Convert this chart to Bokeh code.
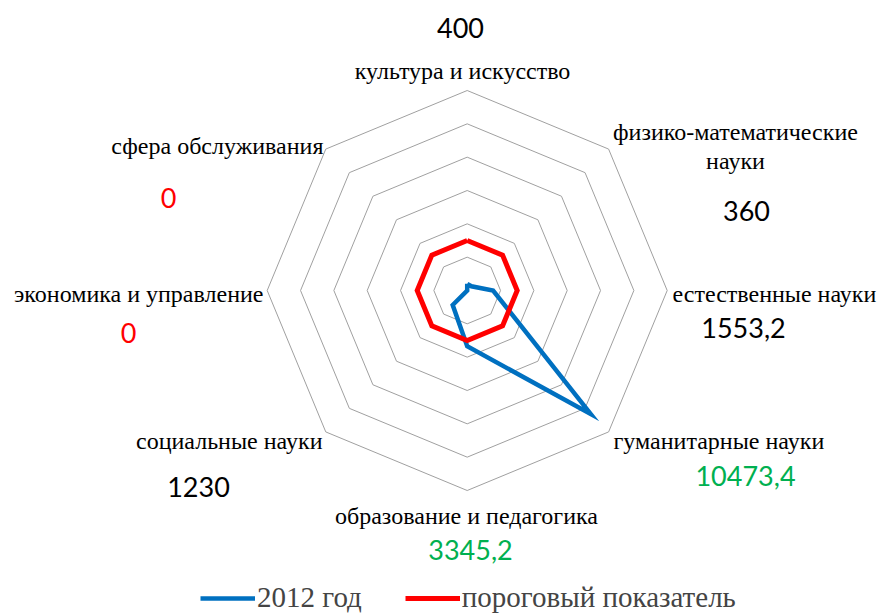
import numpy as np
from bokeh.plotting import figure
from bokeh.models import Legend, LegendItem, Range1d
from bokeh.core.properties import value
from bokeh.embed import file_html
from bokeh.resources import INLINE

# ---------------- data ----------------
categories = [
    "культура и искусство",
    "физико-математические\nнауки",
    "естественные науки",
    "гуманитарные науки",
    "образование и педагогика",
    "социальные науки",
    "экономика и управление",
    "сфера обслуживания",
]
values_2012 = [400, 360, 1553.2, 10473.4, 3345.2, 1230, 0, 0]
threshold = [3000, 3000, 3000, 3000, 3000, 3000, 3000, 3000]
value_labels = ["400", "360", "1553,2", "10473,4", "3345,2", "1230", "0", "0"]
value_label_colors = ["#000000", "#000000", "#000000", "#00B050", "#00B050", "#000000", "#FF0000", "#FF0000"]
ring_ticks = [2000, 4000, 6000, 8000, 10000, 12000]
series_names = ["2012 год", "пороговый показатель"]

# ---------------- layout (pixel positions in picture) ----------------
W, H = 878, 616
CX, CY = 466.7, 290.0        # radar centre in picture pixels
R_PX = 200.0                  # outer ring radius in pixels
U = ring_ticks[-1] / R_PX     # data units per pixel

cat_label_layout = [  # (x, y, align)
    (462, 70, "center"),
    (735, 146, "center"),
    (672, 293, "left"),
    (613, 440, "left"),
    (466, 515, "center"),
    (322, 440, "right"),
    (263, 293, "right"),
    (323, 145, "right"),
]
val_label_layout = [
    (460, 27), (746, 210), (743, 327), (745, 475),
    (470, 549), (198, 486), (128, 332), (168, 197),
]


def px2data(ix, iy):
    return (ix - CX) * U, (CY - iy) * U


n = len(categories)
theta = np.arange(n) * 2 * np.pi / n


def polar(vals):
    v = np.asarray(vals, dtype=float)
    xs = v * np.sin(theta)
    ys = v * np.cos(theta)
    return list(xs) + [xs[0]], list(ys) + [ys[0]]


p = figure(
    width=W, height=H,
    x_range=Range1d((0 - CX) * U, (W - CX) * U),
    y_range=Range1d((CY - H) * U, (CY - 0) * U),
    output_backend="svg", toolbar_location=None,
    min_border=0, outline_line_color=None,
)
p.axis.visible = False
p.grid.visible = False
p.background_fill_color = "white"
p.border_fill_color = "white"

# rings
ring_xs, ring_ys = [], []
for t in ring_ticks:
    xs, ys = polar([t] * n)
    ring_xs.append(xs)
    ring_ys.append(ys)
p.multi_line(ring_xs, ring_ys, line_color="#A0A0A0", line_width=1)

# series
bx, by = polar(values_2012)
r_blue = p.line(bx, by, line_color="#0070C0", line_width=4.5, line_join="miter")
rx, ry = polar(threshold)
r_red = p.line(rx, ry, line_color="#FF0000", line_width=5, line_join="miter")

# category labels
for (ix, iy, al), name in zip(cat_label_layout, categories):
    x, y = px2data(ix, iy)
    p.text([x], [y], text=[name], text_align=al, text_baseline="middle",
           text_font=value("Liberation Serif"), text_font_size="24px",
           text_color="#000000", text_line_height=1.15)

# value labels
vx, vy = zip(*[px2data(ix, iy) for ix, iy in val_label_layout])
p.text(list(vx), list(vy), text=value_labels, text_align="center", text_baseline="middle",
       text_font=value("Lato"), text_font_size="27px", text_color=value_label_colors)

legend = Legend(
    items=[LegendItem(label=series_names[0], renderers=[r_blue]),
           LegendItem(label=series_names[1], renderers=[r_red])],
    orientation="horizontal", location=(200, 2),
    label_text_font="Liberation Serif", label_text_font_size="29px",
    glyph_width=55, glyph_height=20, label_standoff=2, spacing=43,
    padding=0, margin=0, border_line_alpha=0, background_fill_alpha=0,
)
p.add_layout(legend)

open("out.html", "w").write(file_html(p, INLINE))
